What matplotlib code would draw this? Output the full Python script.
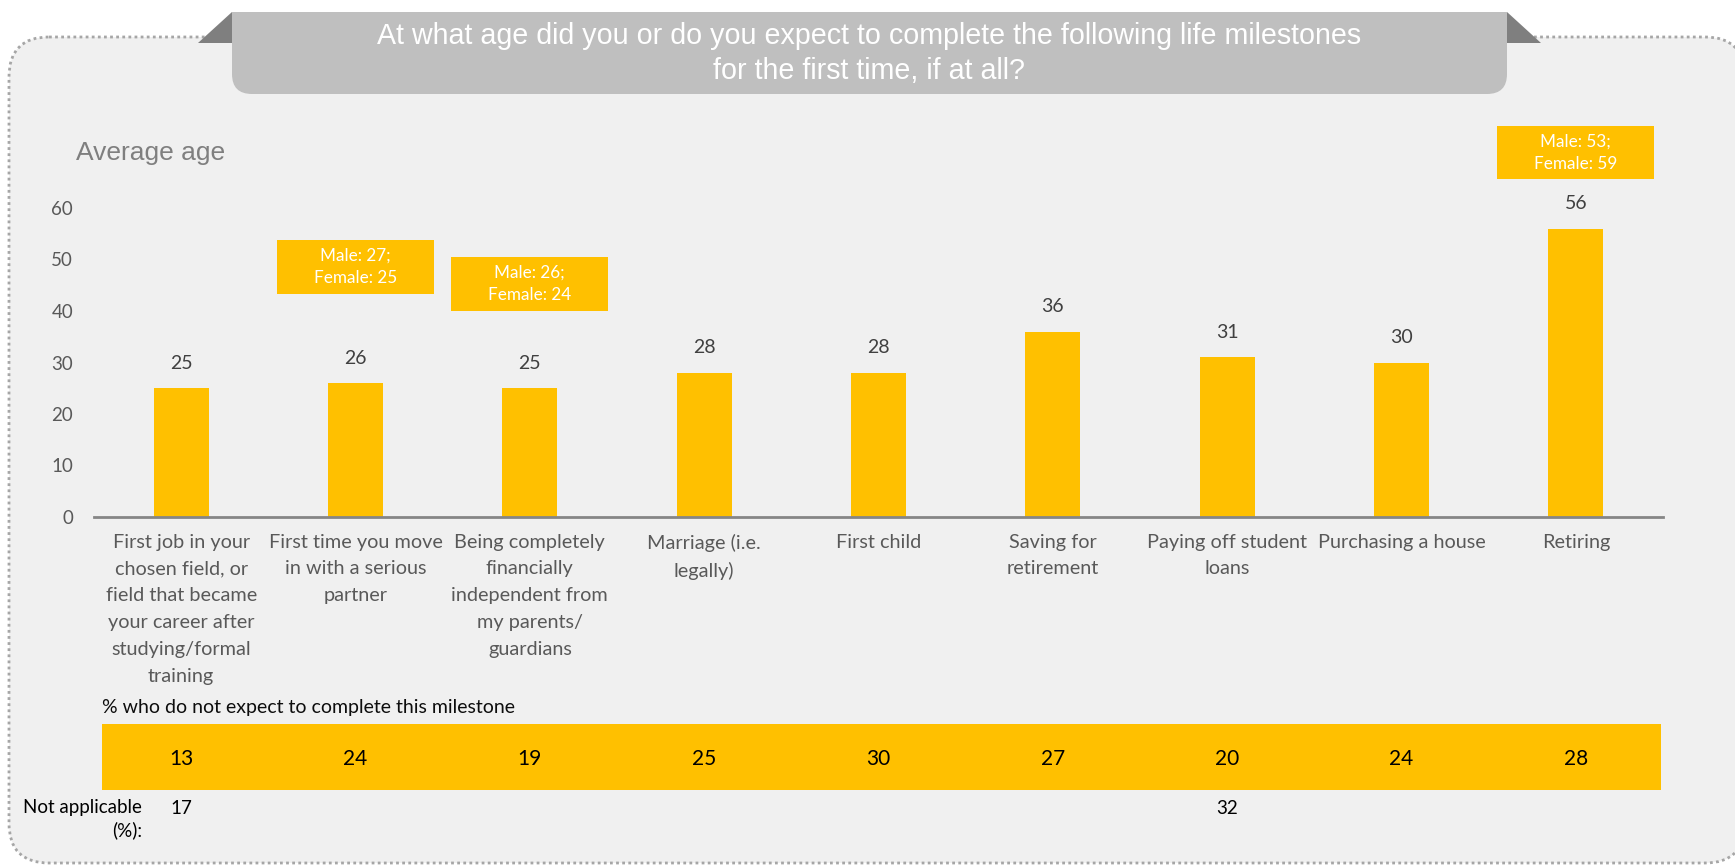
import matplotlib
matplotlib.use("Agg")
import matplotlib.pyplot as plt
from matplotlib.patches import FancyBboxPatch, Polygon, Rectangle
from matplotlib import transforms

# ---------------- data ----------------
categories = [
    "First job in your\nchosen field, or\nfield that became\nyour career after\nstudying/formal\ntraining",
    "First time you move\nin with a serious\npartner",
    "Being completely\nfinancially\nindependent from\nmy parents/\nguardians",
    "Marriage (i.e.\nlegally)",
    "First child",
    "Saving for\nretirement",
    "Paying off student\nloans",
    "Purchasing a house",
    "Retiring",
]
avg_age = [25, 26, 25, 28, 28, 36, 31, 30, 56]
not_expect_pct = [13, 24, 19, 25, 30, 27, 20, 24, 28]
not_applicable_pct = [17, None, None, None, None, None, 32, None, None]
gender_notes = [None, "Male: 27;\nFemale: 25", "Male: 26;\nFemale: 24",
                None, None, None, None, None, "Male: 53;\nFemale: 59"]
y_ticks = [0, 10, 20, 30, 40, 50, 60]
title_lines = ["At what age did you or do you expect to complete the following life milestones",
               "for the first time, if at all?"]

# ---------------- style ----------------
W, H, DPI = 1735, 865, 100
GOLD = "#FFC000"
BODY_FONT = ["Lato", "DejaVu Sans"]
HEAD_FONT = ["Liberation Sans", "DejaVu Sans"]

fig = plt.figure(figsize=(W / DPI, H / DPI), dpi=DPI)
fig.patch.set_facecolor("white")

# pixel-space layer for the panel, banner and free text
bg = fig.add_axes([0, 0, 1, 1])
bg.set_xlim(0, W)
bg.set_ylim(H, 0)
bg.axis("off")

panel = FancyBboxPatch((9, 37), 1745 - 9, 863 - 37,
                       boxstyle="round,pad=0,rounding_size=40",
                       facecolor="#f0f0f0", edgecolor="#a6a6a6",
                       linewidth=2, linestyle=(0, (1, 1.2)))
bg.add_patch(panel)

# title banner with folded corners
bg.add_patch(Polygon([(198, 43), (232, 12), (232, 43)], closed=True,
                     facecolor="#7f7f7f", edgecolor="none"))
bg.add_patch(Polygon([(1507, 12), (1541, 43), (1507, 43)], closed=True,
                     facecolor="#7f7f7f", edgecolor="none"))
bg.add_patch(FancyBboxPatch((232, 12), 1507 - 232, 94 - 12,
                            boxstyle="round,pad=0,rounding_size=20",
                            facecolor="#bfbfbf", edgecolor="none"))
bg.add_patch(Rectangle((232, 12), 1507 - 232, 30, facecolor="#bfbfbf", edgecolor="none"))
bg.text(869, 44, title_lines[0], ha="center", va="baseline", color="white",
        fontsize=20.6, family=HEAD_FONT)
bg.text(869, 79, title_lines[1], ha="center", va="baseline", color="white",
        fontsize=20.6, family=HEAD_FONT)

bg.text(76, 153, "Average age", ha="left", va="center", color="#7f7f7f",
        fontsize=19, family=HEAD_FONT)

# ---------------- main bar chart ----------------
x0_px, x1_px = 94, 1663
zero_px, px_per_unit = 517, 5.15
y_top = 76
ax = fig.add_axes([x0_px / W, (H - zero_px) / H,
                   (x1_px - x0_px) / W, y_top * px_per_unit / H])
ax.patch.set_alpha(0)
n = len(categories)
xs = list(range(n))
ax.set_xlim(-0.5, n - 0.5)
ax.set_ylim(0, y_top)

ax.bar(xs, avg_age, width=0.315, color=GOLD, zorder=2)

for s in ("top", "right", "left"):
    ax.spines[s].set_visible(False)
ax.spines["bottom"].set_color("#868686")
ax.spines["bottom"].set_linewidth(2)

ax.set_yticks(y_ticks)
ax.set_yticklabels([str(t) for t in y_ticks], color="#595959",
                   fontsize=13.5, family=BODY_FONT)
ax.tick_params(axis="y", length=0, pad=15)
ax.set_xticks(xs)
ax.set_xticklabels(categories, color="#595959", fontsize=14.3,
                   family=BODY_FONT, linespacing=1.7)
ax.tick_params(axis="x", length=0, pad=12)

for i, v in enumerate(avg_age):
    ax.annotate(str(v), (i, v), xytext=(0, 18), textcoords="offset points",
                ha="center", va="center", color="#404040",
                fontsize=14, family=BODY_FONT)

# gender split call-outs
note_bottom = {1: 43.3, 2: 40.0, 8: 65.6}
note_h = 10.4
for i, note in enumerate(gender_notes):
    if note is None:
        continue
    b = note_bottom[i]
    ax.add_patch(Rectangle((i - 0.45, b), 0.9, note_h, facecolor=GOLD,
                           edgecolor="none", clip_on=False, zorder=3))
    ax.text(i, b + note_h / 2, note, ha="center", va="center", color="white",
            fontsize=12.3, family=BODY_FONT, linespacing=1.5, zorder=4)

# ---------------- lower strip ----------------
mix = transforms.blended_transform_factory(ax.transData, bg.transData)

bg.text(102, 707, "% who do not expect to complete this milestone",
        ha="left", va="center", color="#0d0d0d", fontsize=14, family=BODY_FONT)
bg.add_patch(Rectangle((-0.455, 724), (n - 0.51) + 0.455, 790 - 724,
                       transform=mix, facecolor=GOLD, edgecolor="none"))
for i, p in enumerate(not_expect_pct):
    bg.text(i, 759, str(p), transform=mix, ha="center", va="center",
            color="black", fontsize=15, family=BODY_FONT)

bg.text(142, 819, "Not applicable\n(%):", ha="right", va="center",
        multialignment="right", color="black", fontsize=13.5,
        family=BODY_FONT, linespacing=1.35)
for i, p in enumerate(not_applicable_pct):
    if p is None:
        continue
    bg.text(i, 809, str(p), transform=mix, ha="center", va="center",
            color="black", fontsize=13.5, family=BODY_FONT)

fig.savefig("out.png", dpi=DPI, facecolor="white")
